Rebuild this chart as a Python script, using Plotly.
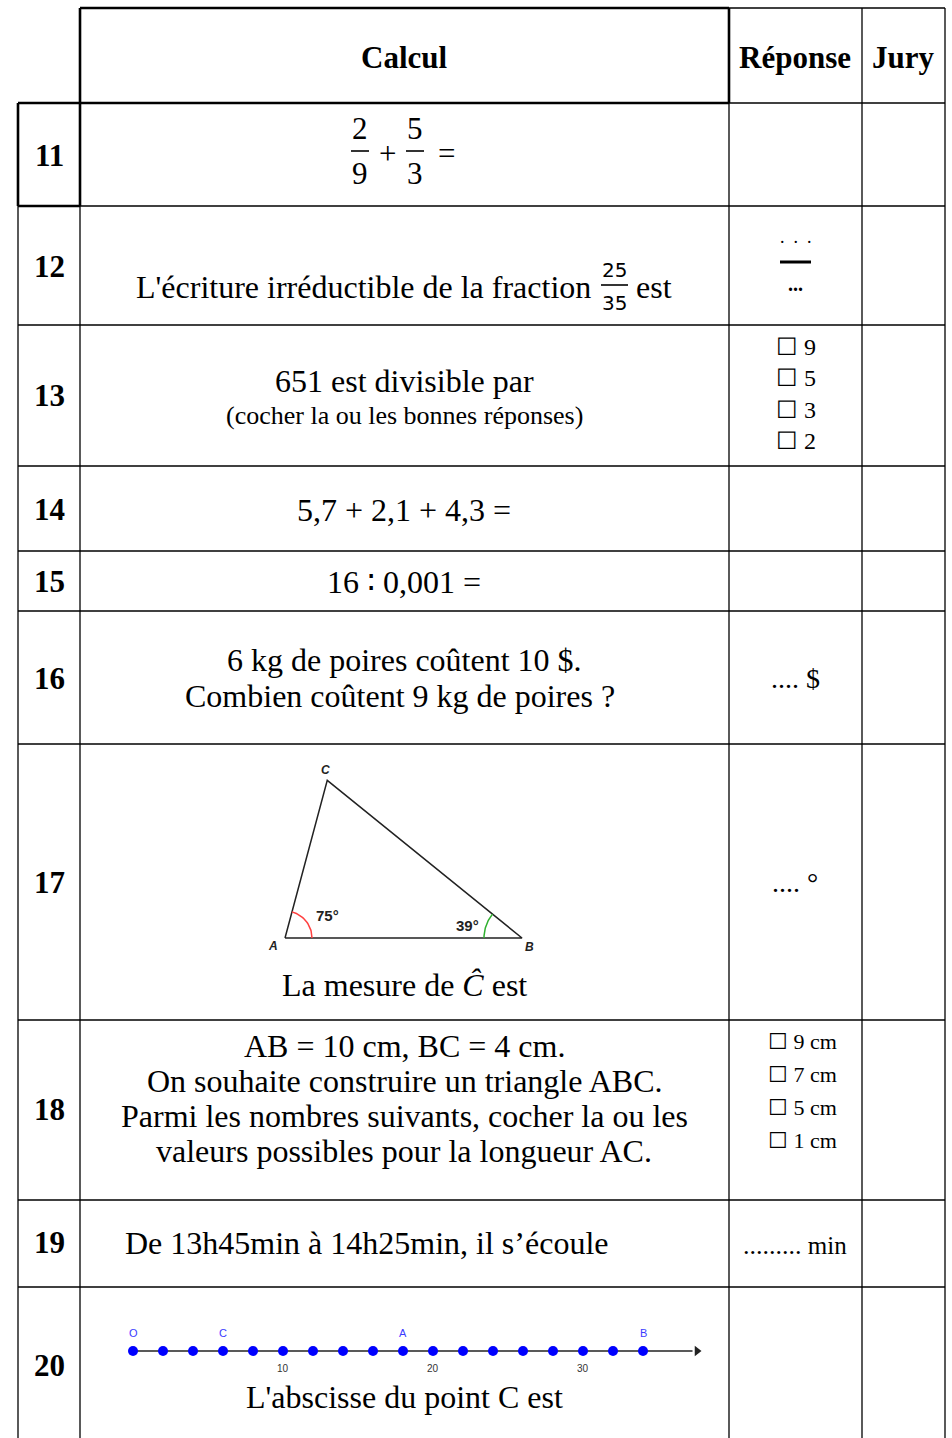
import math
import plotly.graph_objects as go

# ---- data ----
header_labels = ["Calcul", "Réponse", "Jury"]
row_labels = ["11", "12", "13", "14", "15", "16", "17", "18", "19", "20"]

q11_fractions = [("2", "9"), ("5", "3")]
q12_text = ["L'écriture irréductible de la fraction", "est"]
q12_fraction = ("25", "35")
q13_lines = ["651 est divisible par", "(cocher la ou les bonnes réponses)"]
q13_choices = ["9", "5", "3", "2"]
q14_text = "5,7 + 2,1 + 4,3 ="
q15_text = "16 ∶ 0,001 ="
q16_lines = ["6 kg de poires coûtent 10 $.", "Combien coûtent 9 kg de poires ?"]
q17_caption = "La mesure de <i>Ĉ</i> est"
tri_angles = {"A": 75, "B": 39}
q18_lines = ["AB = 10 cm, BC = 4 cm.",
             "On souhaite construire un triangle ABC.",
             "Parmi les nombres suivants, cocher la ou les",
             "valeurs possibles pour la longueur AC."]
q18_choices = ["9 cm", "7 cm", "5 cm", "1 cm"]
q19_text = "De 13h45min à 14h25min, il s’écoule"
q20_caption = "L'abscisse du point C est"
line_points = [0, 2, 4, 6, 8, 10, 12, 14, 16, 18, 20, 22, 24, 26, 28, 30, 32, 34]
line_named = {"O": 0, "C": 6, "A": 18, "B": 34}
line_ticks = [10, 20, 30]
answer_texts = {"16": ".... $", "17": ".... °"}

# ---- page layout (pixels) ----
W, H = 952, 1438
row_edges = [8, 103, 206, 325, 466, 551, 611, 744, 1020, 1200, 1287, 1438]
X_OUT, X_NUM, X_CALC, X_REP, X_END = 18, 80, 729, 862, 945
CX_NUM, CX_CALC, CX_REP, CX_JURY = 49, 404, 795, 903
SERIF = "Liberation Serif, Times New Roman, serif"
SANS = "Liberation Sans, Arial, sans-serif"
THIN, THICK = 1.3, 2.6
BODY = 32

fig = go.Figure()
annotations = []
shapes = []


def text(x, y, s, size=BODY, bold=False, xanchor="center", color="black",
         family=SERIF, xref="x"):
    if bold:
        s = "<b>" + s + "</b>"
    annotations.append(dict(x=x, y=y, xref=xref, yref="y", text=s, showarrow=False,
                            xanchor=xanchor, yanchor="middle",
                            font=dict(family=family, size=size, color=color)))


def line(x0, y0, x1, y1, width=THIN):
    shapes.append(dict(type="line", x0=x0, y0=y0, x1=x1, y1=y1, xref="x", yref="y",
                       line=dict(color="black", width=width)))


# ---- table grid ----
top, head_bottom = row_edges[0], row_edges[1]
line(X_NUM, top, X_CALC, top, THICK)
line(X_CALC, top, X_END, top)
line(X_OUT, head_bottom, X_CALC, head_bottom, THICK)
line(X_CALC, head_bottom, X_END, head_bottom)
line(X_OUT, row_edges[2], X_NUM, row_edges[2], THICK)
line(X_NUM, row_edges[2], X_END, row_edges[2])
for y in row_edges[3:-1]:
    line(X_OUT, y, X_END, y)
line(X_OUT, head_bottom, X_OUT, row_edges[2], THICK)
line(X_OUT, row_edges[2], X_OUT, H)
line(X_NUM, top, X_NUM, row_edges[2], THICK)
line(X_NUM, row_edges[2], X_NUM, H)
line(X_CALC, top, X_CALC, head_bottom, THICK)
line(X_CALC, head_bottom, X_CALC, H)
line(X_REP, top, X_REP, H)
line(X_END, top, X_END, H)

# ---- header ----
for cx, lab in zip([CX_CALC, CX_REP, CX_JURY], header_labels):
    text(cx, 57, lab, size=31, bold=True)

# ---- row numbers ----
row_cy = [155, 266, 395, 509, 581, 678, 882, 1109, 1242, 1365]
for lab, cy in zip(row_labels, row_cy):
    text(CX_NUM, cy, lab, size=31, bold=True)

# ---- row 11 : 2/9 + 5/3 = ----
frac_x = [360, 415]
for fx, (num, den) in zip(frac_x, q11_fractions):
    text(fx, 128, num, size=31)
    text(fx, 173, den, size=31)
    line(fx - 9, 151, fx + 9, 151, 1.6)
text(387, 153, "+", size=31)
text(446, 153, "=", size=31)

# ---- row 12 ----
text(593, 287, q12_text[0], xanchor="right")
text(634, 287, q12_text[1], xanchor="left")
text(614, 270, q12_fraction[0], size=20, family="DejaVu Sans")
text(614, 303, q12_fraction[1], size=20, family="DejaVu Sans")
line(601, 285, 628, 285, 1.6)
text(CX_REP + 1, 237, ".  .  .", size=18)
line(780, 262, 811, 262, 3)
text(CX_REP, 284, "...", size=20, bold=True)

# ---- row 13 ----
text(CX_CALC, 381, q13_lines[0])
text(CX_CALC, 415, q13_lines[1], size=26)
for i, c in enumerate(q13_choices):
    text(774, 347 + i * 31.3, "☐ " + c, size=24, xanchor="left")

# ---- rows 14, 15, 16 ----
text(CX_CALC, 510, q14_text)
text(CX_CALC, 582, q15_text)
text(CX_CALC, 660, q16_lines[0])
text(400, 696, q16_lines[1])
text(CX_REP, 678, answer_texts["16"], size=28)

# ---- row 17 : triangle ----
ax_, ay_, ab_len = 285, 938, 237
ang_a, ang_b = tri_angles["A"], tri_angles["B"]
ang_c = 180 - ang_a - ang_b
ac_len = ab_len * math.sin(math.radians(ang_b)) / math.sin(math.radians(ang_c))
bx_, by_ = ax_ + ab_len, ay_
cx_ = ax_ + ac_len * math.cos(math.radians(ang_a))
cy_ = ay_ - ac_len * math.sin(math.radians(ang_a))
fig.add_trace(go.Scatter(x=[ax_, bx_, cx_, ax_], y=[ay_, by_, cy_, ay_], mode="lines",
                         line=dict(color="#222222", width=1.5), hoverinfo="skip"))


def arc(x0, y0, r, a0, a1, color):
    n = 30
    ts = [math.radians(a0 + (a1 - a0) * k / n) for k in range(n + 1)]
    fig.add_trace(go.Scatter(x=[x0 + r * math.cos(t) for t in ts],
                             y=[y0 - r * math.sin(t) for t in ts],
                             mode="lines", line=dict(color=color, width=1.5),
                             hoverinfo="skip"))


arc(ax_, ay_, 27, 0, ang_a, "#ff4040")
arc(bx_, by_, 38, 180 - ang_b, 180, "#30b030")
text(327, 915, f"{ang_a}°", size=15, bold=True, family=SANS, color="#222222")
text(467, 925, f"{ang_b}°", size=15, bold=True, family=SANS, color="#222222")
text(ax_ - 12, ay_ + 8, "<i>A</i>", size=12, bold=True, family=SANS, color="#222222")
text(bx_ + 7, by_ + 9, "<i>B</i>", size=12, bold=True, family=SANS, color="#222222")
text(cx_ - 2, cy_ - 10, "<i>C</i>", size=12, bold=True, family=SANS, color="#222222")
text(CX_CALC, 985, q17_caption)
text(CX_REP, 882, answer_texts["17"], size=28)

# ---- row 18 ----
for i, s in enumerate(q18_lines):
    text(CX_CALC, 1046 + i * 35, s)
for i, c in enumerate(q18_choices):
    text(766, 1041 + i * 33, "☐ " + c, size=22, xanchor="left")

# ---- row 19 ----
text(123, 1243, q19_text, xanchor="left")
text(CX_REP, 1245, "<span style='font-size:26px'>.........</span> min", size=25)

# ---- row 20 : number line on its own x axis ----
NL_X0, NL_UNIT, NL_Y = 133, 15, 1351
fig.add_trace(go.Scatter(x=[line_points[0], 37.3], y=[NL_Y, NL_Y], xaxis="x2", yaxis="y",
                         mode="lines", line=dict(color="#222222", width=1.3),
                         hoverinfo="skip"))
fig.add_trace(go.Scatter(x=[37.6], y=[NL_Y], xaxis="x2", yaxis="y", mode="markers",
                         marker=dict(symbol="triangle-right", size=9, color="#222222"),
                         hoverinfo="skip"))
fig.add_trace(go.Scatter(x=line_points, y=[NL_Y] * len(line_points), xaxis="x2", yaxis="y",
                         mode="markers", marker=dict(size=10, color="#0000ff"),
                         hoverinfo="skip"))
for name, v in line_named.items():
    text(v, 1333, name, size=11, family=SANS, color="#3b3bff", xref="x2")
for t in line_ticks:
    text(t, 1368, str(t), size=10, family=SANS, color="#333333", xref="x2")
text(CX_CALC, 1397, q20_caption)

fig.update_layout(
    width=W, height=H,
    margin=dict(l=0, r=0, t=0, b=0),
    paper_bgcolor="white", plot_bgcolor="white",
    showlegend=False,
    xaxis=dict(range=[0, W], visible=False, fixedrange=True),
    xaxis2=dict(range=[-NL_X0 / NL_UNIT, (W - NL_X0) / NL_UNIT], overlaying="x",
                anchor="y", visible=False, fixedrange=True),
    yaxis=dict(range=[H, 0], visible=False, fixedrange=True),
    annotations=annotations,
    shapes=shapes,
)

fig.write_html("out.html", config={"displayModeBar": False},
               post_script="document.body.style.margin='0';document.body.style.overflow='hidden';")
